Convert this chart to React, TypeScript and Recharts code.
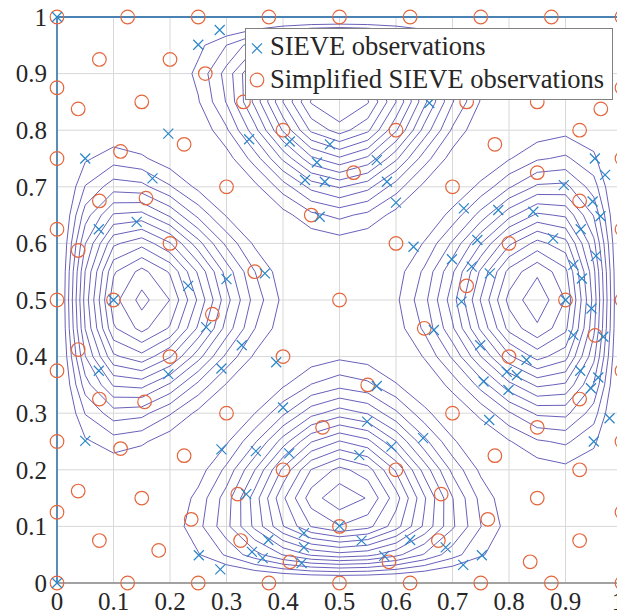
import React from 'react';
import {
  ComposedChart,
  XAxis,
  YAxis,
  CartesianGrid,
  Line,
  Scatter,
  ReferenceLine,
  Legend,
} from 'recharts';

// ---- axes ----
const axisTicks = [0, 0.1, 0.2, 0.3, 0.4, 0.5, 0.6, 0.7, 0.8, 0.9, 1];
const tickLabels = ['0', '0.1', '0.2', '0.3', '0.4', '0.5', '0.6', '0.7', '0.8', '0.9', '1'];

// ---- observations ----
const sievePoints: [number, number][] = [
  [0, 0], [0, 1], [1, 0], [1, 1],
  // left lobe
  [0.05, 0.75], [0.197, 0.794], [0.169, 0.715], [0.074, 0.625], [0.141, 0.638],
  [0.232, 0.525], [0.3, 0.537], [0.368, 0.547], [0.1, 0.5], [0.264, 0.452],
  [0.327, 0.42], [0.074, 0.375], [0.197, 0.369], [0.291, 0.379], [0.388, 0.39],
  [0.05, 0.251],
  // upper lobe
  [0.25, 0.951], [0.288, 0.977], [0.34, 0.784], [0.412, 0.78], [0.46, 0.743],
  [0.439, 0.712], [0.483, 0.775], [0.474, 0.709], [0.566, 0.747], [0.584, 0.709],
  [0.6, 0.672], [0.659, 0.848], [0.465, 0.647], [0.631, 0.594],
  // right lobe
  [0.952, 0.75], [0.97, 0.721], [0.897, 0.703], [0.948, 0.674], [0.962, 0.648],
  [0.72, 0.662], [0.781, 0.659], [0.843, 0.656], [0.927, 0.625], [0.878, 0.609],
  [0.744, 0.606], [0.699, 0.572], [0.734, 0.559], [0.766, 0.547], [0.914, 0.562],
  [0.929, 0.538], [0.954, 0.578], [0.716, 0.497], [0.9, 0.5], [0.946, 0.485],
  [0.667, 0.447], [0.749, 0.42], [0.831, 0.394], [0.796, 0.373], [0.814, 0.367],
  [0.755, 0.356], [0.799, 0.341], [0.914, 0.438], [0.967, 0.435], [0.926, 0.375],
  [0.958, 0.363], [0.945, 0.344], [0.978, 0.291], [0.95, 0.25], [0.765, 0.288],
  // lower lobe
  [0.4, 0.31], [0.291, 0.236], [0.352, 0.233], [0.411, 0.229], [0.335, 0.157],
  [0.437, 0.088], [0.437, 0.063], [0.374, 0.076], [0.345, 0.055], [0.364, 0.044],
  [0.433, 0.035], [0.251, 0.049], [0.289, 0.024], [0.566, 0.348], [0.549, 0.285],
  [0.648, 0.256], [0.592, 0.241], [0.535, 0.226], [0.5, 0.101], [0.539, 0.075],
  [0.625, 0.076], [0.579, 0.048], [0.688, 0.063], [0.752, 0.049], [0.719, 0.032],
];

const boundaryStops = [0, 0.125, 0.25, 0.375, 0.5, 0.625, 0.75, 0.875, 1];

const simplifiedInterior: [number, number][] = [
  [0.075, 0.925], [0.2, 0.925], [0.0375, 0.8375], [0.15, 0.85], [0.225, 0.775],
  [0.1125, 0.7625], [0.3, 0.7], [0.075, 0.675], [0.1575, 0.68], [0.0375, 0.5875],
  [0.2, 0.6], [0.35, 0.55], [0.2625, 0.9], [0.33, 0.85], [0.4, 0.8],
  [0.45, 0.65], [0.1, 0.5], [0.275, 0.475], [0.9625, 0.8375], [0.925, 0.8],
  [0.85, 0.85], [0.775, 0.775], [0.725, 0.85], [0.85, 0.725], [0.6, 0.8],
  [0.525, 0.725], [0.7, 0.7], [0.925, 0.675], [0.6, 0.6], [0.8, 0.6],
  [0.5, 0.5], [0.725, 0.525], [0.9, 0.5], [0.0375, 0.4125], [0.2, 0.4],
  [0.4, 0.4], [0.075, 0.325], [0.155, 0.32], [0.3, 0.3], [0.1125, 0.2375],
  [0.225, 0.225], [0.4, 0.2], [0.0375, 0.1625], [0.15, 0.15], [0.32, 0.157],
  [0.2375, 0.1125], [0.075, 0.075], [0.325, 0.075], [0.18, 0.0575], [0.4125, 0.0375],
  [0.47, 0.275], [0.65, 0.45], [0.9525, 0.4375], [0.8, 0.4], [0.925, 0.325],
  [0.7, 0.3], [0.85, 0.275], [0.55, 0.35], [0.775, 0.225], [0.6, 0.2],
  [0.925, 0.2], [0.85, 0.15], [0.68, 0.157], [0.7625, 0.1125], [0.5, 0.1],
  [0.675, 0.075], [0.925, 0.075], [0.5875, 0.0375], [0.8375, 0.0375],
];

// ---- response surface: four lobes, one against each side of the square ----
const lobeSide = ['bottom', 'left', 'right', 'top'];
const lobeCenter = [0.505, 0.5, 0.5, 0.5]; // position of the peak along its side
const lobeAmplitude = [1.0, 0.975, 1.0, 1.04];
const lobeDepth = [0.15, 0.15, 0.15, 0.145]; // distance of the peak from its side
const lobeWidth = [0.166, 0.162, 0.172, 0.152]; // spread along the side, at the side
const lobeTaper = [0.215, 0.215, 0.22, 0.19]; // how the spread narrows inwards

const contourLevels = [
  0.14, 0.2075, 0.275, 0.3425, 0.41, 0.4775, 0.545, 0.6125, 0.68, 0.7475, 0.815, 0.8825, 0.95,
];

const GRID_STEP = 0.05;
const GRID_SIZE = 21;

function lobeValue(k: number, x: number, y: number): number {
  const side = lobeSide[k];
  const n = side === 'bottom' ? y : side === 'top' ? 1 - y : side === 'left' ? x : 1 - x;
  const along = side === 'bottom' || side === 'top' ? x : y;
  const t = along - lobeCenter[k];
  const s = lobeDepth[k];
  const profile = (n / s) * Math.exp(0.5 - (n * n) / (2 * s * s));
  const w = Math.max(0.02, lobeWidth[k] - lobeTaper[k] * n);
  return lobeAmplitude[k] * profile * Math.exp(-(t * t) / (2 * w * w));
}

function surface(x: number, y: number): number {
  let v = 0;
  for (let k = 0; k < lobeSide.length; k++) v = Math.max(v, lobeValue(k, x, y));
  return v;
}

const gridValues: number[][] = [];
for (let j = 0; j < GRID_SIZE; j++) {
  const row: number[] = [];
  for (let i = 0; i < GRID_SIZE; i++) row.push(surface(i * GRID_STEP, j * GRID_STEP));
  gridValues.push(row);
}

type Pt = { x: number; y: number | null };

// marching squares on the sampled grid, segments chained into polylines
function traceLevel(level: number): Pt[] {
  const pos = new Map<string, { x: number; y: number }>();
  const adj = new Map<string, string[]>();
  const link = (a: string, b: string) => {
    if (!adj.has(a)) adj.set(a, []);
    if (!adj.has(b)) adj.set(b, []);
    adj.get(a)!.push(b);
    adj.get(b)!.push(a);
  };
  const cross = (key: string, x0: number, y0: number, v0: number, x1: number, y1: number, v1: number) => {
    if (!pos.has(key)) {
      const f = (level - v0) / (v1 - v0);
      pos.set(key, { x: x0 + f * (x1 - x0), y: y0 + f * (y1 - y0) });
    }
    return key;
  };
  const g = gridValues;
  for (let j = 0; j < GRID_SIZE - 1; j++) {
    for (let i = 0; i < GRID_SIZE - 1; i++) {
      const x0 = i * GRID_STEP, x1 = (i + 1) * GRID_STEP;
      const y0 = j * GRID_STEP, y1 = (j + 1) * GRID_STEP;
      const c0 = g[j][i], c1 = g[j][i + 1], c2 = g[j + 1][i + 1], c3 = g[j + 1][i];
      const s0 = c0 >= level, s1 = c1 >= level, s2 = c2 >= level, s3 = c3 >= level;
      const e: (string | null)[] = [null, null, null, null];
      if (s0 !== s1) e[0] = cross(`h${i}_${j}`, x0, y0, c0, x1, y0, c1);
      if (s1 !== s2) e[1] = cross(`v${i + 1}_${j}`, x1, y0, c1, x1, y1, c2);
      if (s3 !== s2) e[2] = cross(`h${i}_${j + 1}`, x0, y1, c3, x1, y1, c2);
      if (s0 !== s3) e[3] = cross(`v${i}_${j}`, x0, y0, c0, x0, y1, c3);
      const hits = e.filter((h) => h !== null) as string[];
      if (hits.length === 2) link(hits[0], hits[1]);
      else if (hits.length === 4) {
        const center = (c0 + c1 + c2 + c3) / 4 >= level;
        if (center === s0) {
          link(e[0]!, e[1]!);
          link(e[2]!, e[3]!);
        } else {
          link(e[0]!, e[3]!);
          link(e[1]!, e[2]!);
        }
      }
    }
  }
  const visited = new Set<string>();
  const rows: Pt[] = [];
  const walk = (start: string) => {
    const chain = [start];
    visited.add(start);
    let cur = start;
    for (;;) {
      const nexts = adj.get(cur) ?? [];
      const nxt = nexts.find((n) => !visited.has(n));
      if (!nxt) {
        if (chain.length > 2 && nexts.includes(start)) chain.push(start);
        break;
      }
      visited.add(nxt);
      chain.push(nxt);
      cur = nxt;
    }
    chain.forEach((k) => {
      const p = pos.get(k)!;
      rows.push({ x: p.x, y: p.y });
    });
    const last = pos.get(chain[chain.length - 1])!;
    rows.push({ x: last.x, y: null });
  };
  adj.forEach((ns, k) => {
    if (ns.length === 1 && !visited.has(k)) walk(k);
  });
  adj.forEach((_ns, k) => {
    if (!visited.has(k)) walk(k);
  });
  return rows;
}

const contourRows = contourLevels.map((lv) => traceLevel(lv));

const sieveData = sievePoints.map(([x, y]) => ({ x, y }));
const simplifiedData = [
  ...boundaryStops.map((v) => ({ x: v, y: 0 })),
  ...boundaryStops.slice(1).map((v) => ({ x: 1, y: v })),
  ...boundaryStops.slice(0, -1).map((v) => ({ x: v, y: 1 })),
  ...boundaryStops.slice(1, -1).map((v) => ({ x: 0, y: v })),
  ...simplifiedInterior.map(([x, y]) => ({ x, y })),
];

// ---- styling ----
const CONTOUR_COLOR = '#6057b6';
const CROSS_COLOR = '#2a86c8';
const CIRCLE_COLOR = '#e3663c';
const FRAME_COLOR = '#4a82b4';
const FONT = 'Liberation Serif, Tinos, Times New Roman, Times, DejaVu Serif, Noto Serif, serif';
const TEXT_COLOR = '#262626';

const CrossMark = (props: any) => {
  const { cx, cy } = props;
  if (cx == null || cy == null) return null;
  const r = 5;
  return (
    <path
      d={`M${cx - r},${cy - r}L${cx + r},${cy + r}M${cx - r},${cy + r}L${cx + r},${cy - r}`}
      stroke={CROSS_COLOR}
      strokeWidth={1.2}
      fill="none"
    />
  );
};

const CircleMark = (props: any) => {
  const { cx, cy } = props;
  if (cx == null || cy == null) return null;
  return <circle cx={cx} cy={cy} r={6.8} stroke={CIRCLE_COLOR} strokeWidth={1.2} fill="none" />;
};

// x tick labels; the last one is nudged inwards so it stays on the canvas
const XTick = (props: any) => {
  const { x, y, index } = props;
  const last = index === tickLabels.length - 1;
  return (
    <text
      x={last ? x - 4 : x}
      y={y}
      dy="0.71em"
      textAnchor="middle"
      style={{ fontFamily: FONT, fontSize: 25, fill: TEXT_COLOR }}
    >
      {tickLabels[index]}
    </text>
  );
};

const YTick = (props: any) => {
  const { x, y, index } = props;
  return (
    <text
      x={x}
      y={y}
      dy="0.355em"
      textAnchor="end"
      style={{ fontFamily: FONT, fontSize: 25, fill: TEXT_COLOR }}
    >
      {tickLabels[index]}
    </text>
  );
};

const legendText = { fontFamily: FONT, fontSize: 26.5, fill: TEXT_COLOR };

const LegendBox = () => (
  <svg width={368} height={72} style={{ display: 'block' }}>
    <rect x={0.5} y={0.5} width={367} height={71} fill="#ffffff" stroke="#808080" strokeWidth={1} />
    <path d="M7,15.3L17,25.3M7,25.3L17,15.3" stroke={CROSS_COLOR} strokeWidth={1.2} fill="none" />
    <text x={25} y={27} style={legendText}>
      SIEVE observations
    </text>
    <circle cx={12} cy={52} r={6.8} stroke={CIRCLE_COLOR} strokeWidth={1.2} fill="none" />
    <text x={25} y={59.5} style={legendText}>
      Simplified SIEVE observations
    </text>
  </svg>
);

export default function App() {
  // the chart fills the whole page, so it is pulled over the body margin
  return (
    <div style={{ width: 625, height: 614, margin: '-8px 0 0 -8px', fontFamily: FONT }}>
      <ComposedChart width={625} height={614} margin={{ top: 17, right: 3, bottom: 0, left: 8 }}>
        <CartesianGrid stroke="#d8d8d8" strokeWidth={1} />
        <XAxis
          type="number"
          dataKey="x"
          domain={[0, 1]}
          ticks={axisTicks}
          interval={0}
          height={31}
          tickSize={0}
          tickMargin={9}
          tick={<XTick />}
          axisLine={{ stroke: '#8a8a8a', strokeWidth: 1.5 }}
        />
        <YAxis
          type="number"
          dataKey="y"
          domain={[0, 1]}
          ticks={axisTicks}
          interval={0}
          width={49}
          tickSize={0}
          tickMargin={10}
          tick={<YTick />}
          axisLine={{ stroke: FRAME_COLOR, strokeWidth: 1.8 }}
        />
        {contourRows.map((rows, k) => (
          <Line
            key={`level-${k}`}
            data={rows}
            dataKey="y"
            type="linear"
            stroke={CONTOUR_COLOR}
            strokeWidth={0.95}
            dot={false}
            activeDot={false}
            connectNulls={false}
            isAnimationActive={false}
            legendType="none"
          />
        ))}
        <ReferenceLine y={1} stroke={FRAME_COLOR} strokeWidth={1.8} />
        <ReferenceLine x={1} stroke={FRAME_COLOR} strokeWidth={1.8} />
        <Scatter data={simplifiedData} shape={CircleMark} isAnimationActive={false} legendType="none" />
        <Scatter data={sieveData} shape={CrossMark} isAnimationActive={false} legendType="none" />
        <Legend
          layout="vertical"
          align="center"
          verticalAlign="middle"
          wrapperStyle={{ left: 245, top: 28, width: 368, height: 72 }}
          content={() => <LegendBox />}
        />
      </ComposedChart>
    </div>
  );
}
